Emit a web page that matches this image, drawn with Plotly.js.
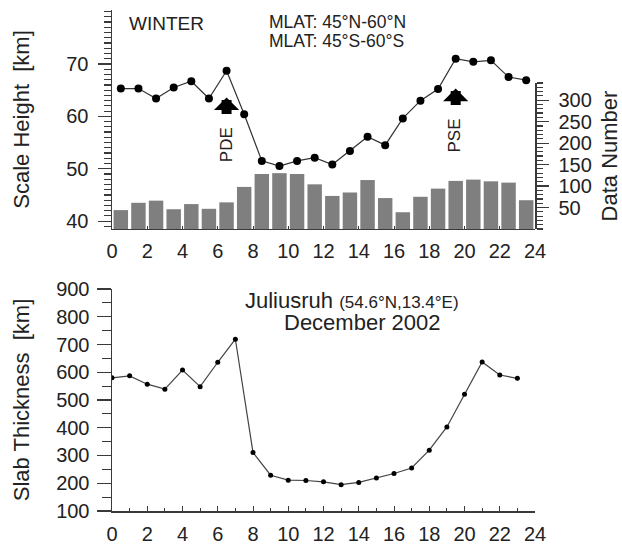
<!DOCTYPE html>
<html>
<head>
<meta charset="utf-8">
<script src="https://cdn.plot.ly/plotly-3.0.1.min.js"></script>
<style>html,body{margin:0;padding:0;background:#fff;}#chart{width:622px;height:544px;}</style>
</head>
<body>
<div id="chart"></div>
<script>
// Top panel: hourly (half-hour centred) values
var halfHours = [0.5,1.5,2.5,3.5,4.5,5.5,6.5,7.5,8.5,9.5,10.5,11.5,12.5,13.5,14.5,15.5,16.5,17.5,18.5,19.5,20.5,21.5,22.5,23.5];
var scaleHeight = [65.3,65.3,63.4,65.5,66.7,63.4,68.7,60.4,51.5,50.5,51.5,52.1,50.8,53.4,56.1,54.5,59.6,63.0,65.2,71.0,70.4,70.7,67.5,66.9];
var dataNumber = [44,61,66,46,58,47,62,98,128,130,128,104,77,85,114,72,39,75,94,112,115,111,108,67];

// Bottom panel: Juliusruh slab thickness, December 2002
var hours = [0,1,2,3,4,5,6,7,8,9,10,11,12,13,14,15,16,17,18,19,20,21,22,23];
var slabThickness = [580,587,557,539,608,548,636,719,311,229,211,210,205,195,203,219,235,255,319,403,521,637,590,578];

var leftTicksTop = [40,50,60,70];
var rightTicksTop = [50,100,150,200,250,300];

var FONT = 'Liberation Sans, Arial, Helvetica, sans-serif';
var TXT = '#222';
var AX = '#3a3a3a';

var traces = [
  {type:'bar', x:halfHours, y:dataNumber, xaxis:'x', yaxis:'y3', width:0.82,
   marker:{color:'#7f7f7f', line:{width:0}}, hoverinfo:'skip'},
  {type:'scatter', mode:'lines+markers', x:halfHours, y:scaleHeight, xaxis:'x', yaxis:'y',
   line:{color:'#333', width:1.2}, marker:{color:'#000', size:8}},
  {type:'scatter', mode:'lines+markers', x:hours, y:slabThickness, xaxis:'x2', yaxis:'y2',
   line:{color:'#444', width:1.2}, marker:{color:'#000', size:5}}
];

function xax(anchor, tl, minor){
  var a = {anchor:anchor, domain:[0,1], range:[0,24], tickmode:'linear', tick0:0, dtick:2,
    ticks:'inside', ticklen:tl, tickwidth:1, tickcolor:AX, showline:true, linecolor:AX, linewidth:1.5,
    showgrid:false, zeroline:false, ticklabelstandoff:4, tickfont:{size:20, color:TXT}};
  if(minor) a.minor = {tickmode:'linear', tick0:0, dtick:1, ticks:'inside', ticklen:3, tickcolor:AX, showgrid:false};
  return a;
}

var layout = {
  width:622, height:544,
  margin:{l:112, r:87, t:10, b:33},
  paper_bgcolor:'#fff', plot_bgcolor:'rgba(0,0,0,0)',
  showlegend:false,
  font:{family:FONT, size:20, color:TXT},
  xaxis: xax('y', 3, false),
  xaxis2: xax('y2', 5, true),
  yaxis: {domain:[0.5629,1], anchor:'x', range:[38.5,80.3], tickmode:'array', tickvals:leftTicksTop,
    ticks:'outside', ticklen:13, tickwidth:1.2, tickcolor:AX, showline:true, linecolor:AX, linewidth:1.5,
    minor:{tickmode:'linear', tick0:0, dtick:1, ticks:'outside', ticklen:7, tickcolor:AX, showgrid:false},
    showgrid:false, zeroline:false, ticklabelstandoff:5, tickfont:{size:20, color:TXT},
    title:{text:'Scale Height\u00a0 [km]', font:{size:22, color:TXT}, standoff:30}},
  yaxis3: {domain:[0.5629,0.8543], anchor:'x', side:'right', range:[0,340], tickmode:'array', tickvals:rightTicksTop,
    ticks:'outside', ticklen:12, tickwidth:1.2, tickcolor:AX, showline:true, linecolor:AX, linewidth:1.5,
    minor:{tickmode:'linear', tick0:0, dtick:10, ticks:'outside', ticklen:6, tickcolor:AX, showgrid:false},
    showgrid:false, zeroline:false, ticklabelstandoff:6, tickfont:{size:20, color:TXT},
    title:{text:'Data Number', font:{size:22, color:TXT}, standoff:10}},
  yaxis2: {domain:[0,0.4431], anchor:'x2', range:[100,900], tickmode:'linear', tick0:100, dtick:100,
    ticks:'outside', ticklen:14, tickwidth:1.2, tickcolor:AX, showline:true, linecolor:AX, linewidth:1.5,
    minor:{tickmode:'linear', tick0:50, dtick:100, ticks:'outside', ticklen:9, tickcolor:AX, showgrid:false},
    showgrid:false, zeroline:false, ticklabelstandoff:3, tickfont:{size:20, color:TXT},
    title:{text:'Slab Thickness\u00a0 [km]', font:{size:22, color:TXT}, standoff:20}},
  yaxis4: {overlaying:'y2', anchor:'x2', side:'right', range:[100,900], tickmode:'linear', tick0:100, dtick:100,
    ticks:'outside', ticklen:14, tickwidth:1.2, tickcolor:AX, showline:true, linecolor:AX, linewidth:1.5,
    minor:{tickmode:'linear', tick0:50, dtick:100, ticks:'outside', ticklen:9, tickcolor:AX, showgrid:false},
    showgrid:false, zeroline:false, ticklabelstandoff:3, tickfont:{size:20, color:TXT}},
  annotations:[
    {xref:'x', yref:'y', x:0.85, y:77.8, xanchor:'left', yanchor:'middle', showarrow:false,
     text:'WINTER', font:{size:19, color:TXT}},
    {xref:'x', yref:'y', x:8.8, y:78.1, xanchor:'left', yanchor:'middle', showarrow:false,
     text:'MLAT: 45°N-60°N', font:{size:17.5, color:TXT}},
    {xref:'x', yref:'y', x:8.8, y:74.3, xanchor:'left', yanchor:'middle', showarrow:false,
     text:'MLAT: 45°S-60°S', font:{size:17.5, color:TXT}},
    {xref:'x', yref:'y', x:6.5, y:63.6, ax:0, ay:18, axref:'pixel', ayref:'pixel', text:'', showarrow:true,
     arrowhead:1, arrowsize:0.42, arrowwidth:10, arrowcolor:'#000', standoff:0},
    {xref:'x', yref:'y', x:19.5, y:65.3, ax:0, ay:18, axref:'pixel', ayref:'pixel', text:'', showarrow:true,
     arrowhead:1, arrowsize:0.42, arrowwidth:10, arrowcolor:'#000', standoff:0},
    {xref:'x', yref:'y', x:6.5, y:54.6, textangle:-90, showarrow:false, text:'PDE', font:{size:17, color:TXT}},
    {xref:'x', yref:'y', x:19.45, y:56.3, textangle:-90, showarrow:false, text:'PSE', font:{size:17, color:TXT}},
    {xref:'x2', yref:'y2', x:13.6, y:858, showarrow:false,
     text:'Juliusruh <span style="font-size:17px">(54.6°N,13.4°E)</span>', font:{size:22, color:TXT}},
    {xref:'x2', yref:'y2', x:14.2, y:780, showarrow:false, text:'December 2002', font:{size:22, color:TXT}}
  ]
};

Plotly.newPlot('chart', traces, layout, {displayModeBar:false, staticPlot:true});
</script>
</body>
</html>
